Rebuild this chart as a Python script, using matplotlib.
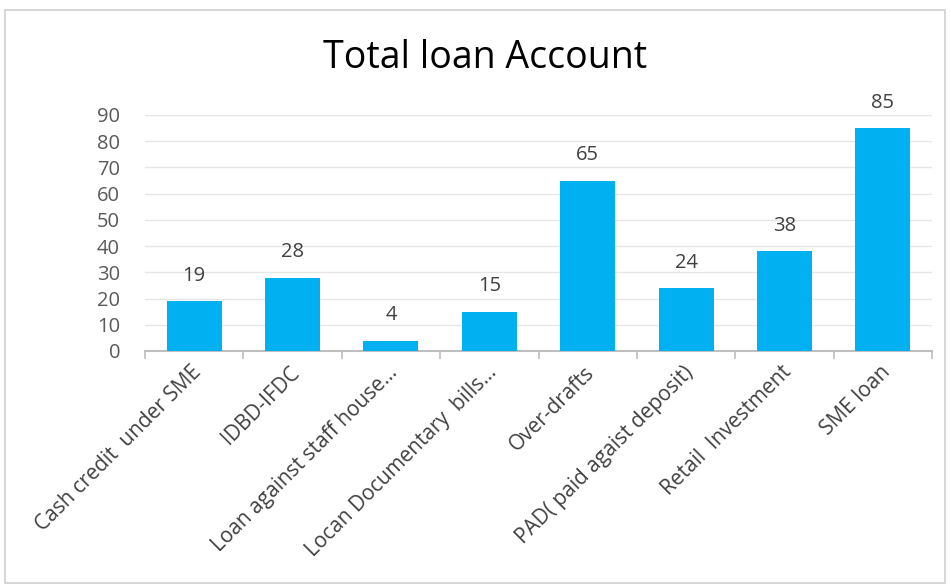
import matplotlib
matplotlib.use('Agg')
import matplotlib.pyplot as plt
from matplotlib.patches import Rectangle

categories = ['Cash credit  under SME', 'IDBD-IFDC', 'Loan against staff house...',
              'Locan Documentary  bills...', 'Over-drafts', 'PAD( paid agaist deposit)',
              'Retail  Investment', 'SME loan']
values = [19, 28, 4, 15, 65, 24, 38, 85]
yticks = [0, 10, 20, 30, 40, 50, 60, 70, 80, 90]

plt.rcParams['font.family'] = ['Open Sans', 'DejaVu Sans']

fig = plt.figure(figsize=(9.51, 5.86), dpi=100)
fig.patch.set_facecolor('white')

# outer chart border
fig.add_artist(Rectangle((5 / 951, 3 / 586), 940 / 951, 573 / 586, transform=fig.transFigure,
                         fill=False, edgecolor='#d0d0d0', linewidth=1.2))

ax = fig.add_axes([145 / 951, 1 - 351 / 586, 787 / 951, 236 / 586])
x = range(len(categories))
bars = ax.bar(x, values, width=0.56, color='#00B0F0', zorder=3)

for xi, v in zip(x, values):
    ax.annotate(str(v), (xi, v), textcoords='offset points', xytext=(0, 11),
                ha='center', va='bottom', fontsize=14.5, color='#404040')

ax.set_xlim(-0.5, len(categories) - 0.5)
ax.set_ylim(0, 90)
ax.set_yticks(yticks)
ax.set_yticklabels([str(t) for t in yticks], fontsize=14.5, color='#595959')
ax.yaxis.grid(True, color='#e6e6e6', linewidth=1, zorder=0)
ax.tick_params(axis='y', length=0, pad=18)

ax.set_xticks([i - 0.5 for i in range(len(categories) + 1)], minor=False)
ax.set_xticklabels([])
ax.tick_params(axis='x', length=6, color='#bfbfbf', width=1.2)
for xi, lab in zip(x, categories):
    ax.text(xi + 0.04, -7, lab, rotation=45, ha='right', va='center', rotation_mode='anchor',
            fontsize=15, color='#404040')

for s in ['top', 'right', 'left']:
    ax.spines[s].set_visible(False)
ax.spines['bottom'].set_color('#bfbfbf')
ax.spines['bottom'].set_linewidth(1.5)

fig.text(485 / 951, 1 - 58 / 586, 'Total loan Account', ha='center', va='center',
         fontsize=27, color='#000000')

plt.savefig('out.png', dpi=100)
